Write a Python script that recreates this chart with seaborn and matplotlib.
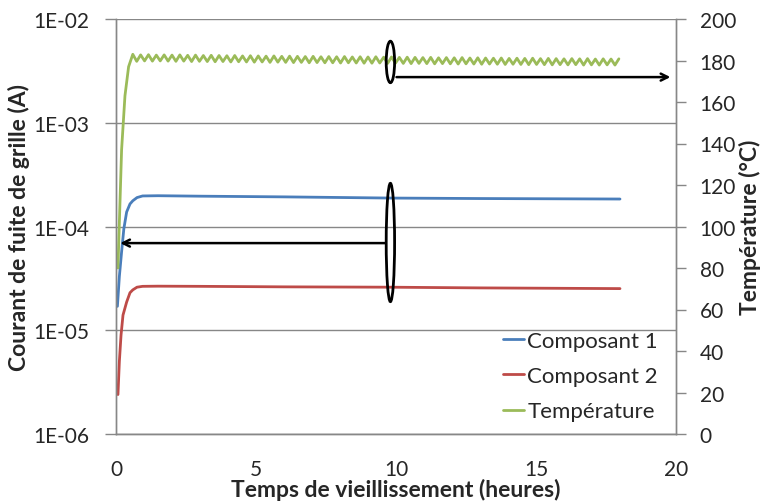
#Gate leakage current and temperature vs ageing time
import numpy as np
import pandas as pd
import matplotlib
matplotlib.use('Agg')
import matplotlib.pyplot as plt
from matplotlib.patches import Ellipse
from matplotlib.ticker import FixedLocator, FixedFormatter
import seaborn as sns

#data
t_comp1 = [0.05, 0.12, 0.2, 0.28, 0.38, 0.5, 0.6, 0.75, 0.95, 1.5, 3.0, 6.0, 9.8, 13.0, 18.0]
i_comp1 = [1.7e-5, 3.3e-5, 5.7e-5, 9.5e-5, 1.38e-4, 1.65e-4, 1.77e-4, 1.9e-4, 1.97e-4,
           1.98e-4, 1.96e-4, 1.93e-4, 1.88e-4, 1.86e-4, 1.84e-4]

t_comp2 = [0.07, 0.12, 0.18, 0.25, 0.38, 0.5, 0.6, 0.75, 0.95, 1.5, 3.0, 6.0, 9.8, 13.0, 18.0]
i_comp2 = [2.4e-6, 5.0e-6, 9.0e-6, 1.4e-5, 1.87e-5, 2.3e-5, 2.45e-5, 2.6e-5, 2.65e-5,
           2.66e-5, 2.65e-5, 2.62e-5, 2.6e-5, 2.56e-5, 2.52e-5]

#temperature : rise then peaks / troughs of the regulation
t_temp = [0.07, 0.14, 0.2, 0.32, 0.45,
          0.60, 0.74, 0.88, 1.02, 1.16, 1.30, 1.44, 1.58, 1.72, 1.86,
          2.00, 2.14, 2.28, 2.42, 2.56, 2.70, 2.84, 2.98, 3.12, 3.26,
          3.40, 3.54, 3.68, 3.82, 3.96, 4.10, 4.24, 4.38, 4.52, 4.66,
          4.80, 4.94, 5.08, 5.22, 5.36, 5.50, 5.64, 5.78, 5.92, 6.06,
          6.20, 6.34, 6.48, 6.62, 6.76, 6.90, 7.04, 7.18, 7.32, 7.46,
          7.60, 7.74, 7.88, 8.02, 8.16, 8.30, 8.44, 8.58, 8.72, 8.86,
          9.00, 9.14, 9.28, 9.42, 9.56, 9.70, 9.84, 9.98, 10.12, 10.26,
          10.40, 10.54, 10.68, 10.82, 10.96, 11.10, 11.24, 11.38, 11.52, 11.66,
          11.80, 11.94, 12.08, 12.22, 12.36, 12.50, 12.64, 12.78, 12.92, 13.06,
          13.20, 13.34, 13.48, 13.62, 13.76, 13.90, 14.04, 14.18, 14.32, 14.46,
          14.60, 14.74, 14.88, 15.02, 15.16, 15.30, 15.44, 15.58, 15.72, 15.86,
          16.00, 16.14, 16.28, 16.42, 16.56, 16.70, 16.84, 16.98, 17.12, 17.26,
          17.40, 17.54, 17.68, 17.82, 17.96]
temp = [80.0, 110.0, 137.0, 163.0, 177.0,
        183.0, 179.6, 182.7, 179.8, 182.8, 179.7, 182.6, 179.8, 182.7, 179.7,
        182.6, 179.6, 182.7, 179.7, 182.5, 179.5, 182.6, 179.6, 182.4, 179.5,
        182.5, 179.4, 182.4, 179.5, 182.3, 179.3, 182.4, 179.4, 182.2, 179.3,
        182.3, 179.2, 182.2, 179.3, 182.1, 179.1, 182.2, 179.2, 182.0, 179.1,
        182.1, 179.0, 182.0, 179.1, 181.9, 178.9, 182.0, 179.0, 181.8, 178.9,
        181.9, 178.9, 181.8, 178.8, 181.9, 178.9, 181.7, 178.8, 181.8, 178.7,
        181.7, 178.7, 181.8, 178.8, 181.6, 178.6, 181.7, 178.7, 181.5, 178.6,
        181.6, 178.5, 181.5, 178.6, 181.4, 178.5, 181.5, 178.4, 181.3, 178.5,
        181.4, 178.4, 181.3, 178.3, 181.4, 178.4, 181.2, 178.3, 181.3, 178.2,
        181.2, 178.3, 181.1, 178.2, 181.2, 178.1, 181.0, 178.2, 181.1, 178.1,
        181.0, 178.0, 181.1, 178.1, 180.9, 178.0, 181.0, 177.9, 180.9, 178.0,
        180.8, 177.9, 180.9, 178.0, 180.8, 177.8, 180.9, 177.9, 180.7, 177.8,
        180.8, 177.9, 180.7, 177.8, 180.8]

y_ticks = [1e-6, 1e-5, 1e-4, 1e-3, 1e-2]
y_ticklabels = ['1E-06', '1E-05', '1E-04', '1E-03', '1E-02']
x_ticks = [0, 5, 10, 15, 20]
temp_ticks = [0, 20, 40, 60, 80, 100, 120, 140, 160, 180, 200]

c_blue = '#4A7EBB'
c_red = '#BE4B48'
c_green = '#9BBB59'
c_grid = '#878787'

sns.set_style('white')
plt.rcParams['font.family'] = ['Lato', 'DejaVu Sans']

fig = plt.figure(figsize=(7.63, 5.02), dpi=100)
ax = fig.add_axes([116/763, 1-435/502, 560/763, 415/502])
ax2 = ax.twinx()

line_kw = dict(lw=2, solid_joinstyle='round', solid_capstyle='round')
sns.lineplot(x=t_comp1, y=i_comp1, ax=ax, color=c_blue, label='Composant 1', **line_kw)
sns.lineplot(x=t_comp2, y=i_comp2, ax=ax, color=c_red, label='Composant 2', **line_kw)
sns.lineplot(x=t_temp, y=temp, ax=ax2, color=c_green, label='Température', sort=False, **line_kw)

ax.set_yscale('log')
ax.set_ylim(1e-6, 1e-2)
ax.set_xlim(0, 20)
ax2.set_ylim(0, 200)

ax.yaxis.set_major_locator(FixedLocator(y_ticks))
ax.yaxis.set_major_formatter(FixedFormatter(y_ticklabels))
ax.yaxis.set_minor_locator(FixedLocator([]))
ax.set_xticks(x_ticks)
ax2.set_yticks(temp_ticks)

ax.grid(True, axis='y', color=c_grid, lw=1)
ax.grid(False, axis='x')
ax2.grid(False)

for a in (ax, ax2):
    for s in a.spines.values():
        s.set_color(c_grid)
        s.set_linewidth(1)
    a.spines['top'].set_visible(False)

ax.tick_params(axis='y', which='major', direction='out', length=8, width=1, color=c_grid,
               labelsize=15, pad=11.5, left=True)
ax.tick_params(axis='x', length=0, labelsize=15, pad=18)
ax2.tick_params(axis='y', direction='out', length=7, width=1, color=c_grid,
                labelsize=15, pad=10, right=True)

ax.set_xlabel('Temps de vieillissement (heures)', fontsize=16.5, fontweight='bold', labelpad=-1)
ax.set_ylabel('Courant de fuite de grille (A)', fontsize=16.5, fontweight='bold', labelpad=2)
ax2.set_ylabel('Température (°C)', fontsize=16.5, fontweight='bold', labelpad=2)

#ellipses and arrows pointing to the axes
ax2.add_patch(Ellipse((9.8, 179.3), 0.3, 20, fill=False, ec='black', lw=2, zorder=5))
ax2.add_patch(Ellipse((9.8, 92.3), 0.3, 57, fill=False, ec='black', lw=2, zorder=5))
ax2.annotate('', xy=(19.9, 172), xytext=(9.92, 172),
             arrowprops=dict(arrowstyle='->,head_length=0.5,head_width=0.25', lw=1.8, color='black'))
ax2.annotate('', xy=(0.05, 92), xytext=(9.7, 92),
             arrowprops=dict(arrowstyle='->,head_length=0.5,head_width=0.25', lw=1.8, color='black'))

h1, l1 = ax.get_legend_handles_labels()
h2, l2 = ax2.get_legend_handles_labels()
ax.get_legend().remove()
ax2.get_legend().remove()
leg = ax2.legend(h1 + h2, l1 + l2, loc='upper left', bbox_to_anchor=(0.691, 0.248),
                 frameon=False, fontsize=16, handlelength=0.95, handletextpad=0.15,
                 labelspacing=0.68, borderpad=0, borderaxespad=0)

fig.savefig('out.png', dpi=100)
